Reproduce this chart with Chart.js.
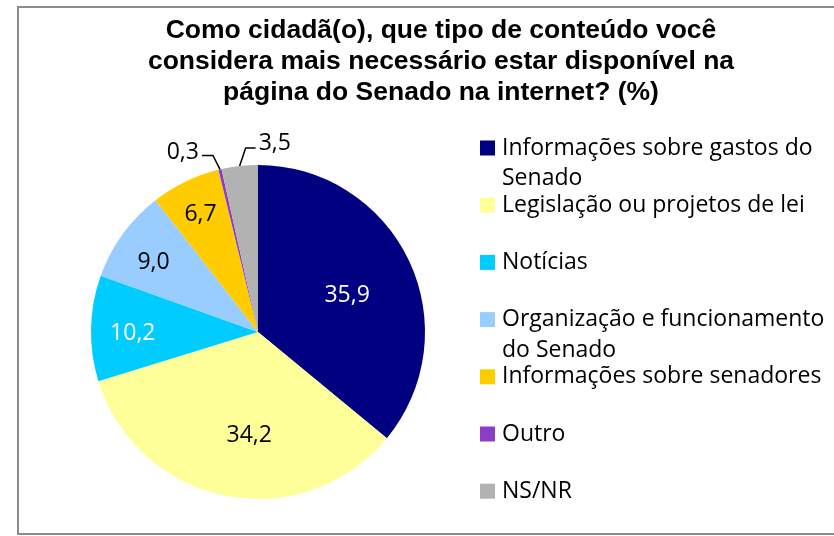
<!DOCTYPE html>
<html>
<head>
<meta charset="utf-8">
<script src="https://cdn.jsdelivr.net/npm/chart.js@4/dist/chart.umd.min.js"></script>
<style>
  html, body { margin: 0; padding: 0; background: #ffffff; overflow: hidden; width: 834px; height: 536px; }
  #box { position: absolute; left: 17px; top: 6px; width: 848px; height: 529px; box-sizing: border-box;
         border: 2px solid #8c8c8c; background: #fff; }
  #wrap { position: relative; width: 844px; height: 525px; }
</style>
</head>
<body>
<div id="box"><div id="wrap"><canvas id="c"></canvas></div></div>
<script>
// ---- data ----
const titleLines = [
  "Como cidadã(o), que tipo de conteúdo você",
  "considera mais necessário estar disponível na",
  "página do Senado na internet? (%)"
];
const categories = [
  ["Informações sobre gastos do", "Senado"],
  ["Legislação ou projetos de lei"],
  ["Notícias"],
  ["Organização e funcionamento", "do Senado"],
  ["Informações sobre senadores"],
  ["Outro"],
  ["NS/NR"]
];
const values = [35.9, 34.2, 10.2, 9.0, 6.7, 0.3, 3.5];
const valueLabels = ["35,9", "34,2", "10,2", "9,0", "6,7", "0,3", "3,5"];

// ---- styles ----
const colors = ["#000080", "#FFFF99", "#00CCFF", "#99CCFF", "#FFCC00", "#8B3DC6", "#B2B2B2"];
const labelColors = ["#ffffff", "#000000", "#ffffff", "#000000", "#000000", "#000000", "#000000"];
const bodyFont = "'Open Sans', 'DejaVu Sans', sans-serif";

const titlePlugin = {
  id: 'multiTitle',
  afterDraw(chart, args, opts) {
    const ctx = chart.ctx;
    ctx.save();
    ctx.font = opts.font;
    ctx.fillStyle = '#000';
    ctx.textAlign = 'center';
    ctx.textBaseline = 'middle';
    titleLines.forEach((t, i) => ctx.fillText(t, opts.x, opts.top + i * opts.lineStep));
    ctx.restore();
  }
};

const sliceLabelsPlugin = {
  id: 'sliceLabels',
  afterDatasetsDraw(chart, args, opts) {
    const ctx = chart.ctx;
    const meta = chart.getDatasetMeta(0);
    ctx.save();
    ctx.font = opts.font;
    meta.data.forEach((arc, i) => {
      const p = arc.getProps(['x', 'y', 'startAngle', 'endAngle', 'outerRadius'], true);
      const mid = (p.startAngle + p.endAngle) / 2;
      const text = valueLabels[i];
      const ext = opts.outside[i];
      if (ext) {
        const ex = p.x + Math.cos(mid) * p.outerRadius;
        const ey = p.y + Math.sin(mid) * p.outerRadius;
        const bx = ex + ext.elbow[0], by = ey + ext.elbow[1];
        const hx = bx + ext.run;
        ctx.strokeStyle = '#000';
        ctx.lineWidth = 1.5;
        ctx.beginPath();
        ctx.moveTo(ex, ey);
        ctx.lineTo(bx, by);
        ctx.lineTo(hx, by);
        ctx.stroke();
        ctx.fillStyle = '#000';
        ctx.textBaseline = 'middle';
        ctx.textAlign = ext.run < 0 ? 'right' : 'left';
        ctx.fillText(text, hx + (ext.run < 0 ? -3 : 3), by + ext.textDy);
      } else {
        const f = opts.fractions[i];
        const s = opts.shift[i];
        const x = p.x + Math.cos(mid) * p.outerRadius * f + s[0];
        const y = p.y + Math.sin(mid) * p.outerRadius * f + s[1];
        ctx.fillStyle = labelColors[i];
        ctx.textAlign = 'center';
        ctx.textBaseline = 'middle';
        ctx.fillText(text, x, y);
      }
    });
    ctx.restore();
  }
};

const sideLegendPlugin = {
  id: 'sideLegend',
  afterDraw(chart, args, opts) {
    const ctx = chart.ctx;
    ctx.save();
    ctx.font = opts.font;
    ctx.textBaseline = 'middle';
    ctx.textAlign = 'left';
    categories.forEach((lines, i) => {
      const cy = opts.top + i * opts.step;
      ctx.fillStyle = colors[i];
      ctx.fillRect(opts.left, cy - opts.box / 2, opts.box, opts.box);
      ctx.fillStyle = '#000';
      lines.forEach((ln, k) => {
        ctx.fillText(ln, opts.left + opts.box + 7, cy + k * opts.lineStep);
      });
    });
    ctx.restore();
  }
};

new Chart(document.getElementById('c'), {
  type: 'pie',
  data: {
    labels: categories.map(l => l.join(' ')),
    datasets: [{
      data: values,
      backgroundColor: colors,
      borderWidth: 0,
      hoverOffset: 0
    }]
  },
  options: {
    responsive: true,
    maintainAspectRatio: false,
    animation: false,
    layout: { padding: { left: 72, right: 438, top: 157, bottom: 34 } },
    plugins: {
      legend: { display: false },
      tooltip: { enabled: false },
      title: { display: false },
      multiTitle: {
        font: "bold 26.5px 'Liberation Sans', Arial, sans-serif",
        x: 422, top: 23, lineStep: 31
      },
      sliceLabels: {
        font: "23px " + bodyFont,
        fractions: [0.57, 0.61, 0.75, 0.75, 0.79],
        shift: [[3, 4], [11, 4], [0, 4], [-3, 4], [0, 1]],
        outside: [null, null, null, null, null,
                  { elbow: [-7, -14], run: -11, textDy: -3 },
                  { elbow: [6, -18], run: 10, textDy: -5 }]
      },
      sideLegend: {
        font: "23px " + bodyFont,
        left: 461, top: 140, step: 57.2, lineStep: 30.5, box: 15
      }
    }
  },
  plugins: [titlePlugin, sliceLabelsPlugin, sideLegendPlugin]
});
</script>
</body>
</html>
